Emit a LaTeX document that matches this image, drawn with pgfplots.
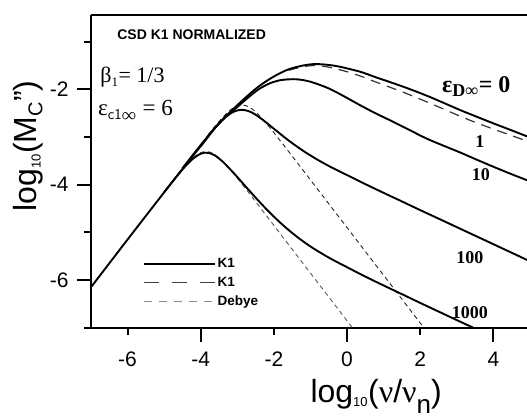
\documentclass[border=0pt]{standalone}
\usepackage{fontspec}
\setmainfont{Liberation Sans}
\newfontfamily\serif{Liberation Serif}
\usepackage{pgfplots}
\usetikzlibrary{calc}
\pgfplotsset{compat=1.18}
\definecolor{slate}{RGB}{74,90,105}
\definecolor{leggray}{RGB}{130,140,150}
\begin{document}
\begin{tikzpicture}
\begin{axis}[
  scale only axis, width=436pt, height=312.7pt,
  xmin=-7, xmax=4.92, ymin=-7, ymax=-0.44,
  axis x line*=box, axis y line*=left,
  axis line style={line width=2pt},
  tick align=outside,
  xtick={-4,0,4}, ytick={-6,-4,-2},
  extra x ticks={-6,-2,2},
  extra x tick style={major tick length=7pt, xticklabel style={yshift=-7pt}},
  minor ytick={-7,-5,-3,-1},
  major tick length=14pt, minor tick length=7pt,
  tick style={line width=2pt, black},
  xtick pos=bottom, ytick pos=left,
  /pgf/number format/assume math mode=true,
  ticklabel style={font=\fontsize{21}{21}\selectfont},
  xticklabel style={yshift=-7pt},
  yticklabel style={xshift=-5pt},
  legend style={at={(rel axis cs:0.118,0.228)}, anchor=north west, draw=none, fill=none,
     font=\bfseries\fontsize{13.5}{13.5}\selectfont, row sep=4pt, inner sep=0pt,
     nodes={inner sep=2pt}},
  legend cell align=left,
  legend image code/.code={\draw[#1] (0pt,0pt) -- (71pt,0pt);},
]
\coordinate (bl) at (rel axis cs:0,0);
\coordinate (tr) at (rel axis cs:1,1);

% Debye curves
\addplot[slate, line width=0.9pt, dash pattern=on 4.5pt off 3.5pt, smooth, forget plot] coordinates {
(-4.5,-3.6715) (-4.2,-3.430) (-4.0,-3.328) (-3.85,-3.3036) (-3.7,-3.330) (-3.5,-3.433)
(-3.2,-3.676) (-2.8,-4.059) (-2.5,-4.355) (-1.5,-5.355) (-0.5,-6.355) (0.145,-7.0)};
\addplot[black!85, line width=0.9pt, dash pattern=on 4.5pt off 3.5pt, smooth, forget plot] coordinates {
(-3.8,-2.956) (-3.5,-2.674) (-3.2,-2.438) (-3.0,-2.344) (-2.875,-2.326) (-2.7,-2.361)
(-2.5,-2.471) (-2.2,-2.719) (-1.8,-3.104) (-1.5,-3.40) (0,-4.90) (1,-5.90) (2.10,-7.0)};

% K1, eps_Dinf = 1 (long dash)
\addplot[black!80, line width=1.2pt, dash pattern=on 10pt off 7pt, smooth, forget plot] coordinates {
(-1.6,-1.60) (-1.2,-1.525) (-0.9,-1.50) (-0.6,-1.52) (-0.3,-1.57) (0,-1.63) (0.4,-1.73)
(0.8,-1.85) (1.26,-1.98) (1.7,-2.11) (2.17,-2.26) (2.6,-2.40) (3.08,-2.56) (3.5,-2.69)
(3.99,-2.83) (4.5,-2.97) (4.9,-3.08) (5.2,-3.17)};

% K1 solid curves
\addplot[black, line width=1.9pt, smooth, forget plot] coordinates {
(-7,-6.15) (-6,-5.15) (-5,-4.16) (-4.5,-3.67) (-4,-3.19) (-3.6,-2.80) (-3.2,-2.48)
(-2.8,-2.19) (-2.4,-1.93) (-2.0,-1.73) (-1.6,-1.58) (-1.2,-1.50) (-0.9,-1.47) (-0.6,-1.48)
(-0.3,-1.51) (0,-1.56) (0.4,-1.64) (0.8,-1.75) (1.26,-1.87) (1.7,-1.99) (2.17,-2.13)
(2.6,-2.27) (3.08,-2.43) (3.5,-2.56) (3.99,-2.71) (4.5,-2.86) (4.9,-2.98) (5.2,-3.07)};
\addplot[black, line width=1.9pt, smooth, forget plot] coordinates {
(-4,-3.19) (-3.6,-2.80) (-3.3,-2.555) (-3.0,-2.37) (-2.7,-2.17) (-2.4,-1.99) (-2.1,-1.87)
(-1.84,-1.81) (-1.6,-1.79) (-1.35,-1.79) (-1.0,-1.84) (-0.5,-1.98) (0,-2.18) (0.35,-2.33)
(0.8,-2.51) (1.26,-2.68) (1.7,-2.85) (2.17,-3.03) (2.6,-3.17) (3.08,-3.32) (3.5,-3.46)
(3.99,-3.62) (4.5,-3.78) (4.9,-3.90) (5.2,-3.99)};
\addplot[black, line width=1.9pt, smooth, forget plot] coordinates {
(-4.5,-3.656) (-4,-3.167) (-3.6,-2.80) (-3.3,-2.571) (-3.1,-2.469) (-2.9,-2.4285) (-2.7,-2.454)
(-2.5,-2.531) (-2.2,-2.701) (-2.0,-2.826) (-1.6,-3.071) (-1.2,-3.289) (-0.8,-3.479)
(-0.4,-3.647) (0,-3.798) (0.5,-3.988) (1,-4.171) (1.5,-4.351) (2,-4.533) (2.5,-4.711)
(3,-4.89) (3.5,-5.069) (4,-5.248) (4.5,-5.427) (5,-5.607) (5.2,-5.68)};
\addplot[black, line width=1.9pt, smooth, forget plot] coordinates {
(-5,-4.155) (-4.5,-3.68) (-4.2,-3.4465) (-4.0,-3.3505) (-3.9,-3.330) (-3.8,-3.3314) (-3.7,-3.353)
(-3.6,-3.393) (-3.4,-3.515) (-3.1,-3.754) (-2.8,-4.014) (-2.5,-4.271) (-2.2,-4.516)
(-1.8,-4.815) (-1.4,-5.074) (-1,-5.296) (-0.5,-5.529) (0,-5.731) (0.5,-5.928) (1,-6.114)
(1.5,-6.296) (2,-6.48) (2.5,-6.66) (3,-6.84) (3.45,-7.0)};

\addlegendimage{black, line width=1.9pt}
\addlegendentry{K1}
\addlegendimage{black!75, line width=1.2pt, dash pattern=on 15pt off 13pt}
\addlegendentry{K1}
\addlegendimage{leggray, line width=1.2pt, dash pattern=on 8pt off 7pt}
\addlegendentry{Debye}

\node[anchor=west, inner sep=0pt, font=\bfseries\fontsize{14}{14}\selectfont] at (rel axis cs:0.06,0.936) {CSD K1 NORMALIZED};
\node[anchor=west, inner sep=0pt, font=\serif\fontsize{22}{22}\selectfont] at (rel axis cs:0.021,0.80) {β\textsubscript{\fontsize{13}{13}\selectfont 1}= 1/3};
\node[anchor=west, inner sep=0pt, font=\serif\fontsize{23}{23}\selectfont] at (rel axis cs:0.016,0.695) {ε\textsubscript{\sffamily\fontsize{15}{15}\selectfont c1∞} = 6};
\node[anchor=west, inner sep=0pt, font=\serif\bfseries\fontsize{24}{24}\selectfont] at (rel axis cs:0.805,0.772) {ε\textsubscript{\fontsize{18}{18}\selectfont D∞}= 0};
\node[font=\serif\bfseries\fontsize{18}{18}\selectfont] at (rel axis cs:0.892,0.594) {1};
\node[font=\serif\bfseries\fontsize{18}{18}\selectfont] at (rel axis cs:0.894,0.488) {10};
\node[font=\serif\bfseries\fontsize{18}{18}\selectfont] at (rel axis cs:0.869,0.223) {100};
\node[font=\serif\bfseries\fontsize{18}{18}\selectfont] at (rel axis cs:0.869,0.048) {1000};
\end{axis}
\node[anchor=base, font=\fontsize{32}{32}\selectfont] at ([yshift=-75pt]$(bl)!0.654!(bl-|tr)$) {log\textsubscript{\fontsize{13}{13}\selectfont 10}({\serif ν}/{\serif ν}\raisebox{-0.33em}{\fontsize{26}{26}\selectfont n})};
\node[rotate=90, anchor=base, font=\fontsize{32}{32}\selectfont] at ([xshift=-54pt]$(bl)!0.581!(bl|-tr)$) {log\textsubscript{\fontsize{13}{13}\selectfont 10}(M\textsubscript{\fontsize{20}{20}\selectfont C}")};
\pgfresetboundingbox
\path ([shift={(-91pt,-91.3pt)}]bl) rectangle ([shift={(0pt,15pt)}]tr);
\end{tikzpicture}
\end{document}
